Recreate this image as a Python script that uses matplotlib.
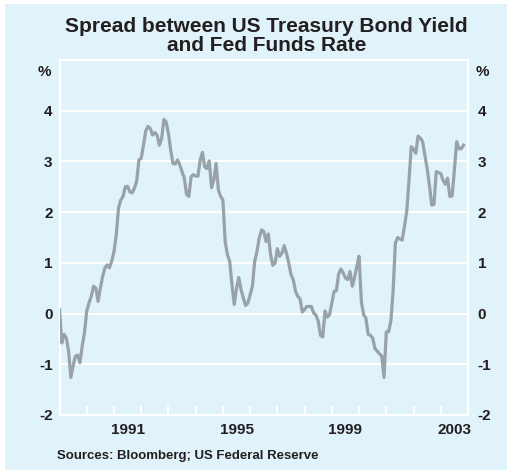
import numpy as np
import matplotlib
matplotlib.use("Agg")
import matplotlib.pyplot as plt
from matplotlib.patches import Rectangle

plt.rcParams['font.family'] = ['Liberation Sans', 'DejaVu Sans']

# ---Datos: spread mensual (%), enero 1989 - noviembre 2003
spread_89_92 = [0.08, -0.58, -0.41, -0.48, -0.74, -1.26, -1.03, -0.84, -0.82, -0.97,
                -0.64, -0.38, 0.05, 0.21, 0.34, 0.54, 0.50, 0.24, 0.50, 0.73,
                0.90, 0.96, 0.90, 1.03, 1.22, 1.55, 2.08, 2.24, 2.31, 2.50,
                2.51, 2.40, 2.38, 2.47, 2.61, 3.03, 3.06, 3.32, 3.60, 3.69,
                3.65, 3.52, 3.57, 3.52, 3.32, 3.45, 3.83]
spread_92_96 = [3.78, 3.55, 3.22, 2.96, 2.95, 3.03, 2.93, 2.80, 2.67, 2.35,
                2.31, 2.70, 2.74, 2.71, 2.71, 3.03, 3.18, 2.89, 2.86, 3.01,
                2.48, 2.63, 2.96, 2.44, 2.31, 2.24, 1.42, 1.16, 1.03, 0.57,
                0.18, 0.50, 0.71, 0.47, 0.31, 0.16, 0.21, 0.37, 0.54, 1.03,
                1.22, 1.49, 1.65, 1.62, 1.42, 1.57]
spread_96_00 = [1.16, 0.95, 1.00, 1.28, 1.13, 1.19, 1.34, 1.19, 1.00, 0.77,
                0.67, 0.44, 0.34, 0.29, 0.03, 0.08, 0.14, 0.14, 0.14, 0.01,
                -0.03, -0.15, -0.43, -0.46, 0.05, -0.07, -0.02, 0.21, 0.44, 0.45,
                0.78, 0.88, 0.80, 0.70, 0.67, 0.83, 0.54, 0.71, 0.93, 1.13,
                0.24, -0.02, -0.09, -0.41, -0.43, -0.48]
spread_00_03 = [-0.69, -0.74, -0.79, -0.84, -1.26, -0.36, -0.36, -0.15, 0.44, 1.39,
                1.50, 1.47, 1.45, 1.72, 2.01, 2.63, 3.29, 3.24, 3.16, 3.50,
                3.46, 3.39, 3.12, 2.86, 2.53, 2.14, 2.15, 2.80, 2.78, 2.76,
                2.63, 2.55, 2.67, 2.31, 2.32, 2.83, 3.39, 3.25, 3.25, 3.32]
spread = np.array(spread_89_92 + spread_92_96 + spread_96_00 + spread_00_03)
start_year = 1989
t = start_year + np.arange(len(spread)) / 12.0

year_labels = ['1991', '1995', '1999', '2003']
y_ticks = [-2, -1, 0, 1, 2, 3, 4]

# ---Estilo
fondo = '#e0f2fa'
gris = '#98a2a8'
tinta = '#231f20'
fs = 11

fig = plt.figure(figsize=(5.12, 4.72), dpi=100, facecolor='white')
fig.patches.append(Rectangle((5/512, 2/472), 502/512, 466/472, transform=fig.transFigure,
                             facecolor=fondo, edgecolor='none', zorder=-10))

ax = fig.add_axes([59.5/512, 57/472, 408.5/512, 355/472])
ax.set_facecolor(fondo)
ax.plot(t, spread, color=gris, lw=2.3, zorder=3)
ax.set_xlim(1989, 2004)
ax.set_ylim(-2, 5)

for s in ax.spines.values():
    s.set_color('white')
    s.set_linewidth(1.6)

ax.set_yticks(y_ticks)
ax.set_yticklabels([str(v) for v in y_ticks], fontweight='bold', color=tinta)
for v in y_ticks[1:]:
    ax.axhline(v, color='white', lw=1.4, zorder=1)
ax.tick_params(axis='y', length=0, pad=5, labelsize=fs)

ax.set_xticks(np.arange(1990, 2004))
ax.set_xticklabels([])
ax.set_xticks([int(y) + 0.5 for y in year_labels], minor=True)
ax.set_xticklabels(year_labels, minor=True, fontsize=fs, fontweight='bold', color=tinta)
ax.tick_params(axis='x', which='major', direction='in', length=6.5, width=1.5, color='white')
ax.tick_params(axis='x', which='minor', length=0, pad=6)

ax2 = ax.twinx()
ax2.set_ylim(-2, 5)
ax2.set_yticks(y_ticks)
ax2.set_yticklabels([str(v) for v in y_ticks], fontweight='bold', color=tinta)
ax2.tick_params(axis='y', length=0, pad=7, labelsize=fs)
for s in ax2.spines.values():
    s.set_visible(False)

ax.text(-0.036, 0.965, '%', transform=ax.transAxes, ha='center', va='center',
        fontsize=fs, fontweight='bold', color=tinta)
ax.text(1.035, 0.965, '%', transform=ax.transAxes, ha='center', va='center',
        fontsize=fs, fontweight='bold', color=tinta)

fig.text(0.521, 1 - 36/472, 'Spread between US Treasury Bond Yield\nand Fed Funds Rate',
         ha='center', va='center', fontsize=15, fontweight='bold', linespacing=0.95,
         color=tinta)
fig.text(57/512, 1 - 456/472, 'Sources: Bloomberg; US Federal Reserve', ha='left',
         va='center', fontsize=9.5, fontweight='bold', color=tinta)

fig.savefig('out.png', dpi=100, facecolor='white')
